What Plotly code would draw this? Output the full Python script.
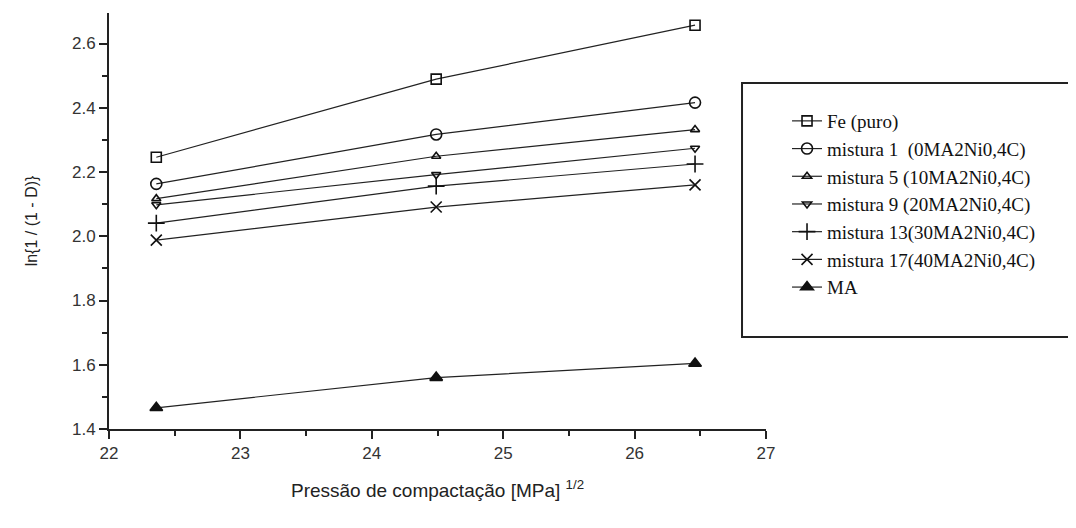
import plotly.graph_objects as go

pressure = [22.36, 24.49, 26.46]
fe_puro = [2.246, 2.489, 2.657]
mistura1 = [2.163, 2.317, 2.416]
mistura5 = [2.117, 2.249, 2.332]
mistura9 = [2.098, 2.192, 2.274]
mistura13 = [2.041, 2.156, 2.225]
mistura17 = [1.988, 2.091, 2.160]
ma = [1.466, 1.560, 1.604]

names = ["Fe (puro)", "mistura 1  (0MA2Ni0,4C)", "mistura 5 (10MA2Ni0,4C)",
         "mistura 9 (20MA2Ni0,4C)", "mistura 13(30MA2Ni0,4C)",
         "mistura 17(40MA2Ni0,4C)", "MA"]
series = [fe_puro, mistura1, mistura5, mistura9, mistura13, mistura17, ma]
symbols = ["square-open", "circle-open", "triangle-up-open", "triangle-down-open",
           "cross-thin-open", "x-thin-open", "triangle-up"]
sizes = [10, 11, 8, 8, 12, 11, 11]

fig = go.Figure()
for nm, ys, sym, sz in zip(names, series, symbols, sizes):
    fig.add_trace(go.Scatter(
        x=pressure, y=ys, name=nm, mode="lines+markers",
        line=dict(color="#222", width=1.2),
        marker=dict(symbol=sym, size=sz, color="#111",
                    line=dict(color="#111", width=1.6)),
    ))

fig.add_shape(type="rect", xref="paper", yref="paper",
              x0=0.9635, x1=1.466, y0=0.221, y1=0.832,
              line=dict(color="#222", width=2), fillcolor="rgba(0,0,0,0)")

fig.update_layout(
    width=1076, height=528,
    margin=dict(l=101, r=318, t=5, b=107),
    plot_bgcolor="white", paper_bgcolor="white",
    showlegend=True,
    legend=dict(x=1.032, y=0.786, xanchor="left", yanchor="top",
                font=dict(family="Liberation Serif", size=19, color="#111"),
                bgcolor="rgba(0,0,0,0)", borderwidth=0,
                tracegroupgap=0),
    font=dict(family="Liberation Sans", color="#333"),
    xaxis=dict(range=[22, 27], dtick=1, showline=True, linecolor="#222", linewidth=2,
               ticks="outside", ticklen=8, tickwidth=1.5, tickcolor="#222",
               showgrid=False, zeroline=False, tickfont=dict(size=17),
               minor=dict(dtick=0.5, ticks="outside", ticklen=5, tickcolor="#222"),
               title=dict(text="Pressão de compactação [MPa] <sup>1/2</sup>",
                          font=dict(size=19, color="#222"), standoff=21)),
    yaxis=dict(range=[1.4, 2.695], tick0=1.4, dtick=0.2, tickformat=".1f",
               showline=True, linecolor="#222", linewidth=2,
               ticks="outside", ticklen=8, tickwidth=1.5, tickcolor="#222",
               showgrid=False, zeroline=False, tickfont=dict(size=17),
               minor=dict(dtick=0.1, ticks="outside", ticklen=5, tickcolor="#222"),
               title=dict(text="ln{1 / (1 - D)}", font=dict(size=16, color="#222"),
                          standoff=30)),
)

fig.write_html("out.html")
